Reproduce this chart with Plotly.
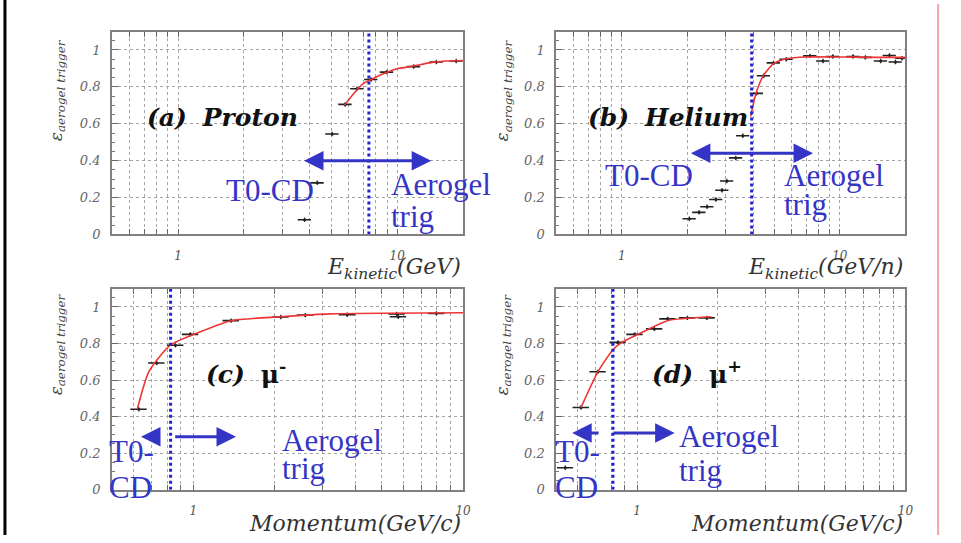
import numpy as np
import plotly.graph_objects as go

W, H = 961, 543

# ---------------- data ----------------
# (a) proton efficiency vs kinetic energy (GeV)
a_pts_x = [3.78, 4.32, 5.05, 5.79, 6.56, 7.6, 8.96, 11.9, 15.1, 18.6]
a_pts_y = [0.08, 0.28, 0.545, 0.705, 0.79, 0.84, 0.88, 0.91, 0.935, 0.94]
a_fit_x = [5.75, 6.3, 7.05, 7.45, 8.6, 10.0, 11.9, 14.0, 16.7, 20.0]
a_fit_y = [0.70, 0.76, 0.82, 0.835, 0.87, 0.898, 0.913, 0.93, 0.94, 0.943]
a_cut = 7.43
a_arrow = (3.70, 14.3, 0.40)

# (b) helium efficiency vs kinetic energy per nucleon (GeV/n)
b_pts_x = [2.04, 2.26, 2.46, 2.70, 2.88, 3.03, 3.33, 3.59, 4.15, 4.47, 4.96,
           5.68, 7.3, 8.37, 9.29, 11.5, 13.1, 15.4, 16.9, 18.0, 19.3]
b_pts_y = [0.085, 0.12, 0.15, 0.19, 0.24, 0.29, 0.415, 0.535, 0.765, 0.86, 0.93,
           0.95, 0.968, 0.94, 0.965, 0.965, 0.96, 0.94, 0.97, 0.935, 0.955]
b_fit_x = [3.9, 4.1, 4.45, 4.95, 5.7, 7.0, 10.0, 15.0, 20.0]
b_fit_y = [0.64, 0.755, 0.86, 0.925, 0.952, 0.962, 0.962, 0.96, 0.96]
b_cut = 3.94
b_arrow = (2.04, 7.54, 0.44)

# (c) mu- efficiency vs momentum (GeV/c)
c_pts_x = [0.628, 0.731, 0.859, 0.975, 1.38, 2.11, 2.6, 3.72, 5.68, 5.75, 7.96]
c_pts_y = [0.44, 0.693, 0.79, 0.85, 0.925, 0.945, 0.955, 0.957, 0.962, 0.946, 0.965]
c_fit_x = [0.62, 0.684, 0.82, 1.045, 1.38, 2.11, 3.22, 10.0]
c_fit_y = [0.44, 0.645, 0.79, 0.86, 0.925, 0.946, 0.962, 0.968]
c_cut = 0.824
c_arrow_left = (0.726, 0.64, 0.29)
c_arrow_right = (0.846, 1.44, 0.29)

# (d) mu+ efficiency vs momentum (GeV/c)
d_pts_x = [0.54, 0.618, 0.714, 0.848, 0.98, 1.16, 1.30, 1.54, 1.82]
d_pts_y = [0.12, 0.45, 0.645, 0.806, 0.85, 0.88, 0.935, 0.94, 0.94]
d_fit_x = [0.618, 0.714, 0.81, 0.877, 1.04, 1.30, 1.89]
d_fit_y = [0.45, 0.645, 0.763, 0.806, 0.86, 0.925, 0.946]
d_cut = 0.813
d_arrow_left = (0.728, 0.573, 0.31)
d_arrow_right = (0.805, 1.38, 0.31)

y_ticks = [0, 0.2, 0.4, 0.6, 0.8, 1.0]
y_ticktext = ["0", "0.2", "0.4", "0.6", "0.8", "1"]
x_grid_top = [0.5, 0.6, 0.7, 0.8, 0.9, 1, 2, 3, 4, 5, 6, 7, 8, 9, 10, 20]
x_grid_bottom = [0.5, 0.6, 0.7, 0.8, 0.9, 1, 2, 3, 4, 5, 6, 7, 8, 9, 10]


def fx(p):
    return p / W


def fy(p):
    return 1 - p / H


BLUE = "#3434c6"
BLUE_CUT = "#2222d4"
RED = "#ee3535"
SERIF = "Liberation Serif, Times New Roman, Times, serif"

fig = go.Figure()

panels = [
    ("", a_pts_x, a_pts_y, a_fit_x, a_fit_y, a_cut),
    ("2", b_pts_x, b_pts_y, b_fit_x, b_fit_y, b_cut),
    ("3", c_pts_x, c_pts_y, c_fit_x, c_fit_y, c_cut),
    ("4", d_pts_x, d_pts_y, d_fit_x, d_fit_y, d_cut),
]

for suf, px_, py_, fx_, fy_, cut in panels:
    xa, ya = "x" + suf, "y" + suf
    fig.add_trace(go.Scatter(
        x=px_, y=py_, mode="markers", xaxis=xa, yaxis=ya,
        marker=dict(color="#222", size=3),
        error_x=dict(type="percent", value=7, color="#222", thickness=1.6, width=0),
        error_y=dict(type="constant", value=0.012, color="#222", thickness=1.2, width=0),
        showlegend=False, hoverinfo="skip"))
    fig.add_trace(go.Scatter(
        x=fx_, y=fy_, mode="lines", xaxis=xa, yaxis=ya,
        line=dict(color=RED, width=1.6, shape="spline", smoothing=0.6),
        showlegend=False, hoverinfo="skip"))
    fig.add_trace(go.Scatter(
        x=[cut, cut], y=[0, 1.1], mode="lines", xaxis=xa, yaxis=ya,
        line=dict(color=BLUE_CUT, width=3, dash="dot"),
        showlegend=False, hoverinfo="skip"))


def xaxis_cfg(domain, rng, grid, anchor):
    return dict(
        domain=domain, type="log", anchor=anchor,
        range=[np.log10(rng[0]), np.log10(rng[1])],
        tickvals=grid, ticktext=["1" if v == 1 else ("10" if v == 10 else "") for v in grid],
        showgrid=True, gridcolor="#a5a5a5", griddash="dot", gridwidth=1,
        ticks="inside", ticklen=5, tickcolor="#666", tickwidth=1,
        showline=True, linecolor="#808080", linewidth=2, mirror="ticks",
        ticklabelstandoff=9,
        tickfont=dict(family="DejaVu Serif", size=12, color="#555", style="italic"),
        zeroline=False, fixedrange=True)


def yaxis_cfg(domain, anchor):
    return dict(
        domain=domain, range=[0, 1.1], anchor=anchor,
        tickvals=y_ticks, ticktext=y_ticktext,
        showgrid=True, gridcolor="#a5a5a5", griddash="dot", gridwidth=1,
        ticks="inside", ticklen=6, tickcolor="#666", tickwidth=1,
        minor=dict(dtick=0.05, tick0=0, ticks="inside", ticklen=3, tickcolor="#777", showgrid=False),
        showline=True, linecolor="#808080", linewidth=2, mirror=True,
        ticklabelstandoff=7,
        tickfont=dict(family="DejaVu Serif", size=13, color="#666", style="italic"),
        zeroline=False, fixedrange=True)


top_dom = [fy(238), fy(32)]
bot_dom = [fy(497), fy(293)]
left_dom = [fx(113), fx(467)]
right_dom = [fx(561), fx(913)]

annotations = []


def arrow(xref, yref, x_from, x_to, yv, both):
    annotations.append(dict(
        xref=xref, yref=yref, axref=xref, ayref=yref,
        x=np.log10(x_to), y=yv, ax=np.log10(x_from), ay=yv,
        text="", showarrow=True, arrowhead=2, arrowsize=1.3, arrowwidth=3,
        arrowside="end+start" if both else "end", arrowcolor=BLUE, standoff=0, startstandoff=0))


arrow("x", "y", a_arrow[0], a_arrow[1], a_arrow[2], True)
arrow("x2", "y2", b_arrow[0], b_arrow[1], b_arrow[2], True)
arrow("x3", "y3", c_arrow_left[0], c_arrow_left[1], c_arrow_left[2], False)
arrow("x3", "y3", c_arrow_right[0], c_arrow_right[1], c_arrow_right[2], False)
arrow("x4", "y4", d_arrow_left[0], d_arrow_left[1], d_arrow_left[2], False)
arrow("x4", "y4", d_arrow_right[0], d_arrow_right[1], d_arrow_right[2], False)


def blue_text(xl, baseline, text):
    annotations.append(dict(
        xref="paper", yref="paper", x=fx(xl), y=fy(baseline - 10),
        xanchor="left", yanchor="middle", showarrow=False, text=text,
        font=dict(family=SERIF, size=31, color=BLUE)))


blue_text(226, 203, "T0-CD")
blue_text(392, 197, "Aerogel")
blue_text(392, 230, "trig")
blue_text(608, 188, "T0-CD")
blue_text(789, 188, "Aerogel")
blue_text(789, 218, "trig")
blue_text(108, 468, "T0-")
blue_text(108, 505, "CD")
blue_text(282, 457, "Aerogel")
blue_text(282, 486, "trig")
blue_text(558, 468, "T0-")
blue_text(558, 505, "CD")
blue_text(683, 453, "Aerogel")
blue_text(683, 488, "trig")


def panel_label(xl, yc, text):
    annotations.append(dict(
        xref="paper", yref="paper", x=fx(xl), y=fy(yc),
        xanchor="left", yanchor="middle", showarrow=False, text=text,
        font=dict(family="DejaVu Serif", size=25, color="#111")))


panel_label(146, 119, "<b><i>(a)</i></b>  <b><i>Proton</i></b>")
panel_label(591, 119, "<b><i>(b)</i></b>  <b><i>Helium</i></b>")
panel_label(206, 378, "<b><i>(c)</i></b>  <b>μ<sup>-</sup></b>")
panel_label(655, 378, "<b><i>(d)</i></b>  <b>μ<sup>+</sup></b>")


def y_title(xc, yc):
    annotations.append(dict(
        xref="paper", yref="paper", x=fx(xc), y=fy(yc),
        xanchor="center", yanchor="middle", showarrow=False, textangle=-90,
        text="<i>ε<sub>aerogel trigger</sub></i>",
        font=dict(family="DejaVu Serif", size=17, color="#444")))


y_title(58, 92)
y_title(508, 92)
y_title(58, 350)
y_title(508, 350)


def x_title(xr, yc, text):
    annotations.append(dict(
        xref="paper", yref="paper", x=fx(xr), y=fy(yc),
        xanchor="right", yanchor="middle", showarrow=False, text=text,
        font=dict(family="DejaVu Serif", size=22, color="#333")))


x_title(467, 273, "<i>E<sub>kinetic</sub>(GeV)</i>")
x_title(913, 273, "<i>E<sub>kinetic</sub>(GeV/n)</i>")
x_title(467, 531, "<i>Momentum(GeV/c)</i>")
x_title(913, 531, "<i>Momentum(GeV/c)</i>")

fig.update_layout(
    width=W, height=H,
    margin=dict(l=0, r=0, t=0, b=0),
    paper_bgcolor="white", plot_bgcolor="white",
    showlegend=False,
    xaxis=xaxis_cfg(left_dom, [0.5, 20], x_grid_top, "y"),
    xaxis2=xaxis_cfg(right_dom, [0.5, 20], x_grid_top, "y2"),
    xaxis3=xaxis_cfg(left_dom, [0.5, 10], x_grid_bottom, "y3"),
    xaxis4=xaxis_cfg(right_dom, [0.5, 10], x_grid_bottom, "y4"),
    yaxis=yaxis_cfg(top_dom, "x"),
    yaxis2=yaxis_cfg(top_dom, "x2"),
    yaxis3=yaxis_cfg(bot_dom, "x3"),
    yaxis4=yaxis_cfg(bot_dom, "x4"),
    annotations=annotations,
    shapes=[
        dict(type="line", xref="paper", yref="paper", x0=fx(5), x1=fx(5), y0=0, y1=1,
             line=dict(color="black", width=3)),
        dict(type="line", xref="paper", yref="paper", x0=fx(946), x1=fx(946), y0=0, y1=fy(4),
             line=dict(color="#f5a3a3", width=2)),
    ],
)

fig.write_html("out.html")
